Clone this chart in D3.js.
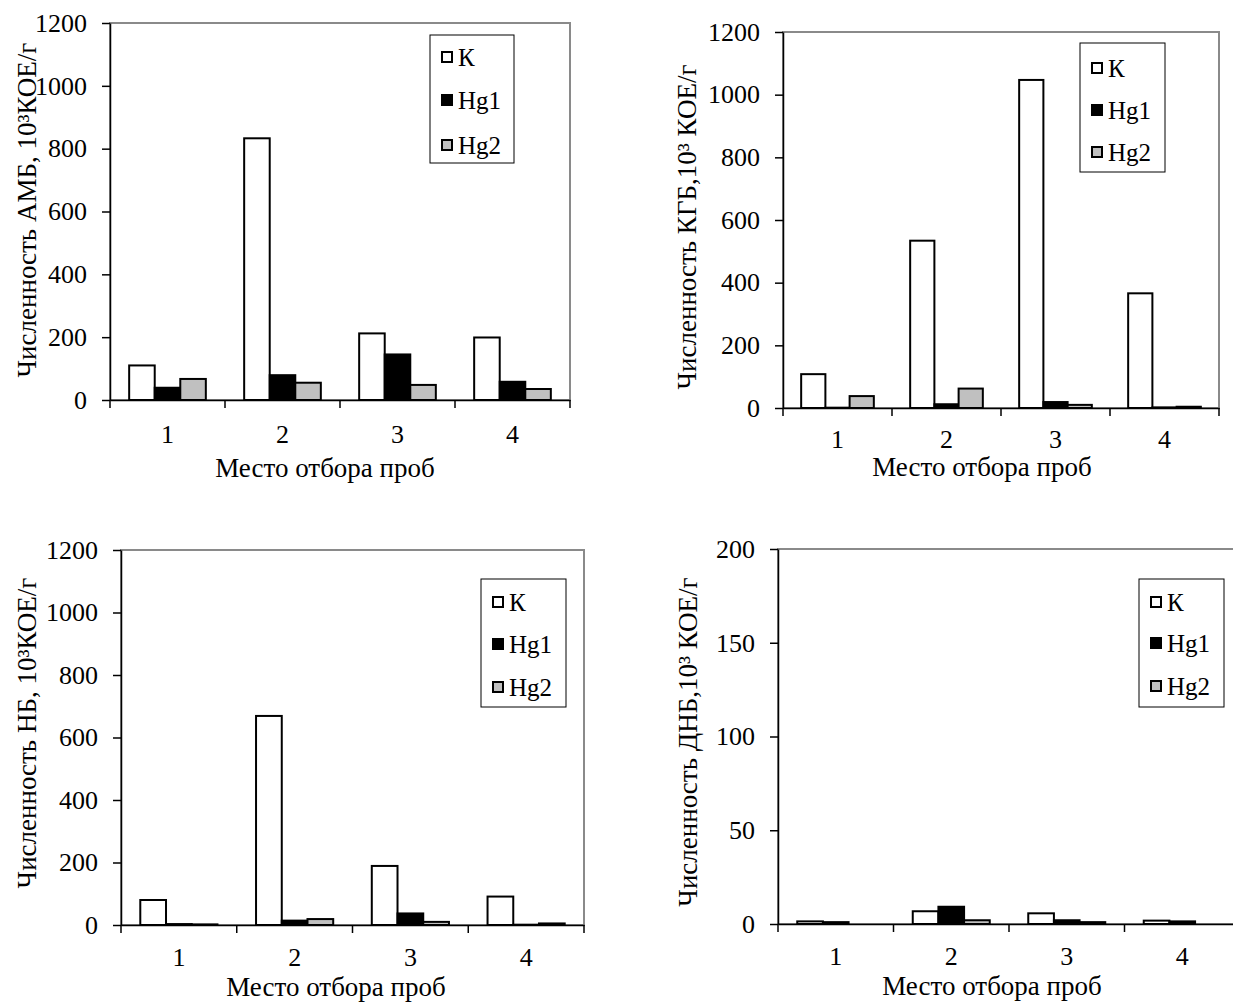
<!DOCTYPE html>
<html>
<head>
<meta charset="utf-8">
<script src="https://cdn.jsdelivr.net/npm/d3@7"></script>
<style>
  body { margin: 0; background: #fff; }
  text { font-family: "Liberation Serif", "Times New Roman", serif; fill: #000; }
</style>
</head>
<body>
<div id="svg"></div>
<script>
// sampling sites and series
let categories = ["1", "2", "3", "4"];
let seriesNames = ["К", "Hg1", "Hg2"];
let seriesFill = ["#ffffff", "#000000", "#c0c0c0"];

// АМБ
let ambK   = [110, 833, 212, 199];
let ambHg1 = [39, 79, 145, 58];
let ambHg2 = [67, 55, 48, 35];
// КГБ
let kgbK   = [108, 534, 1047, 366];
let kgbHg1 = [1, 12, 19, 2];
let kgbHg2 = [38, 62, 10, 4];
// НБ
let nbK    = [80, 669, 189, 91];
let nbHg1  = [3, 14, 37, 1];
let nbHg2  = [2, 19, 10, 5];
// ДНБ
let dnbK   = [1.4, 6.8, 5.7, 1.8];
let dnbHg1 = [1, 9.2, 2, 1.4];
let dnbHg2 = [0, 2, 1, 0];

let ticks1200 = [0, 200, 400, 600, 800, 1000, 1200];
let ticks200 = [0, 50, 100, 150, 200];

let xTitle = "Место отбора проб";

let panels = [
  { values: [ambK, ambHg1, ambHg2], ticks: ticks1200,
    ylabel: "Численность АМБ, 10³КОЕ/г",
    left: 110, right: 570, top: 23, bottom: 400,
    ylx: 27, yly: 210, tx: 325, ty: 477, lpad: 25,
    lg: { x: 430, y: 35, w: 84, h: 128, rows: [57, 100, 145] } },
  { values: [kgbK, kgbHg1, kgbHg2], ticks: ticks1200,
    ylabel: "Численность КГБ,10³ КОЕ/г",
    left: 783, right: 1219, top: 32, bottom: 408,
    ylx: 687, yly: 227, tx: 982, ty: 476, lpad: 22,
    lg: { x: 1080, y: 43, w: 85, h: 129, rows: [68, 110, 152] } },
  { values: [nbK, nbHg1, nbHg2], ticks: ticks1200,
    ylabel: "Численность НБ, 10³КОЕ/г",
    left: 121, right: 584, top: 550, bottom: 925,
    ylx: 27, yly: 733, tx: 336, ty: 996, lpad: 23,
    lg: { x: 481, y: 579, w: 85, h: 128, rows: [602, 644, 687] } },
  { values: [dnbK, dnbHg1, dnbHg2], ticks: ticks200,
    ylabel: "Численность ДНБ,10³ КОЕ/г",
    left: 778, right: 1240, top: 549, bottom: 924,
    ylx: 688, yly: 742, tx: 992, ty: 995, lpad: 23,
    lg: { x: 1139, y: 579, w: 85, h: 128, rows: [602, 643, 686] } }
];

function drawPanel(svg, p) {
  let g = svg.append("g");

  let x0 = d3.scaleBand().domain(categories).range([p.left, p.right]).padding(0);
  let x1 = d3.scaleBand().domain(seriesNames).range([0, x0.bandwidth()])
             .paddingInner(0).paddingOuter(0.75);
  let y = d3.scaleLinear().domain([0, d3.max(p.ticks)]).range([p.bottom, p.top]);

  // plot area frame (grey top / right)
  g.append("rect")
    .attr("x", p.left).attr("y", p.top)
    .attr("width", p.right - p.left).attr("height", p.bottom - p.top)
    .attr("fill", "none").attr("stroke", "#8a8a8a").attr("stroke-width", 2);

  // bars
  seriesNames.forEach((s, si) => {
    g.append("g").selectAll("rect")
      .data(p.values[si])
      .enter()
      .append("rect")
      .attr("x", (d, i) => x0(categories[i]) + x1(s))
      .attr("y", d => y(d))
      .attr("width", x1.bandwidth())
      .attr("height", d => p.bottom - y(d))
      .attr("fill", seriesFill[si])
      .attr("stroke", "#000")
      .attr("stroke-width", 2);
  });

  // y axis
  let ya = g.append("g")
    .attr("transform", `translate(${p.left},0)`)
    .call(d3.axisLeft(y).tickValues(p.ticks).tickFormat(d3.format("d"))
            .tickSize(8).tickPadding(15).tickSizeOuter(0));
  ya.select(".domain").attr("stroke", "#000").attr("stroke-width", 1.5);
  ya.selectAll(".tick line").attr("stroke", "#000").attr("stroke-width", 1.5);
  ya.selectAll("text").style("font-size", "26px").style("font-family", "Liberation Serif");

  // x axis: labels at centres, tick marks on the category borders
  let xa = g.append("g")
    .attr("transform", `translate(0,${p.bottom})`)
    .call(d3.axisBottom(x0).tickSize(0).tickPadding(p.lpad).tickSizeOuter(0));
  xa.select(".domain").attr("stroke", "#000").attr("stroke-width", 1.5);
  xa.selectAll("text").style("font-size", "26px").style("font-family", "Liberation Serif");

  let borders = categories.map(c => x0(c)).concat([p.right]);
  g.append("g").selectAll("line")
    .data(borders)
    .enter()
    .append("line")
    .attr("x1", d => d).attr("x2", d => d)
    .attr("y1", p.bottom).attr("y2", p.bottom + 8)
    .attr("stroke", "#000").attr("stroke-width", 1.5);

  // axis titles
  g.append("text")
    .attr("x", p.tx).attr("y", p.ty)
    .attr("text-anchor", "middle")
    .style("font-size", "27px")
    .text(xTitle);

  g.append("text")
    .attr("transform", `translate(${p.ylx},${p.yly}) rotate(-90)`)
    .attr("text-anchor", "middle")
    .attr("dy", "0.35em")
    .style("font-size", "27px")
    .text(p.ylabel);

  // legend
  let lg = g.append("g");
  lg.append("rect")
    .attr("x", p.lg.x).attr("y", p.lg.y)
    .attr("width", p.lg.w).attr("height", p.lg.h)
    .attr("fill", "#fff").attr("stroke", "#000").attr("stroke-width", 1);
  seriesNames.forEach((s, si) => {
    let ry = p.lg.rows[si];
    lg.append("rect")
      .attr("x", p.lg.x + 12).attr("y", ry - 5)
      .attr("width", 10).attr("height", 10)
      .attr("fill", seriesFill[si]).attr("stroke", "#000").attr("stroke-width", 2);
    lg.append("text")
      .attr("x", p.lg.x + 28).attr("y", ry)
      .attr("dy", "0.35em")
      .style("font-size", "25px")
      .text(s);
  });
}

function makeGraph() {
  let w = 1233, h = 1003;
  let svg = d3.select("#svg")
              .append("svg")
              .attr("width", w)
              .attr("height", h);
  panels.forEach(p => drawPanel(svg, p));
}

window.onload = function() {
  makeGraph();
};
</script>
</body>
</html>
